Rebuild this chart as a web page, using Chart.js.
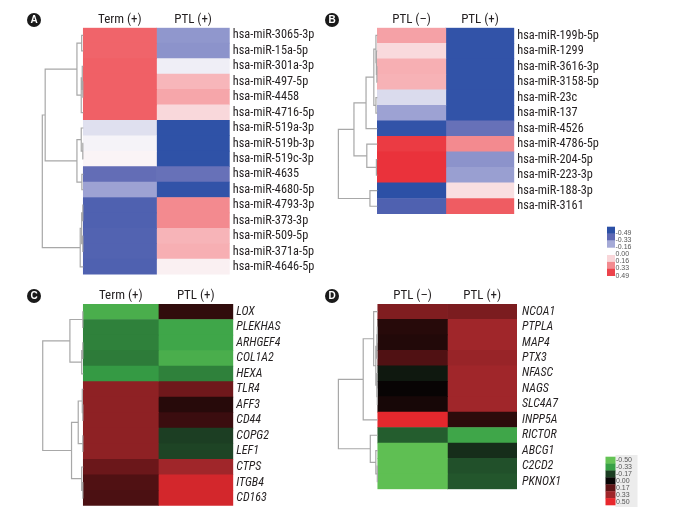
<!DOCTYPE html>
<html>
<head>
<meta charset="utf-8">
<script src="https://cdn.jsdelivr.net/npm/chart.js@4/dist/chart.umd.min.js"></script>
<style>
  html, body { margin: 0; padding: 0; background: #fff; }
  #wrap { position: relative; width: 674px; height: 516px; overflow: hidden; }
  #wrap canvas { position: absolute; }
  .tag {
    position: absolute; width: 14px; height: 14px; border-radius: 50%;
    background: #1a1a1a; color: #fff; font: bold 10px 'Liberation Sans', Arial, sans-serif;
    text-align: center; line-height: 14px;
  }
</style>
</head>
<body>
<div id="wrap">
  <canvas id="cA" width="337" height="285" style="left:0;top:0"></canvas>
  <canvas id="cB" width="337" height="285" style="left:337px;top:0"></canvas>
  <canvas id="cC" width="337" height="231" style="left:0;top:285px"></canvas>
  <canvas id="cD" width="337" height="231" style="left:337px;top:285px"></canvas>
  <div class="tag" style="left:27px;top:13px">A</div>
  <div class="tag" style="left:325px;top:13px">B</div>
  <div class="tag" style="left:27px;top:289px">C</div>
  <div class="tag" style="left:325px;top:289px">D</div>
</div>
<script>
/* ---- data: row labels, column labels, cell values, linkage [a, b, height] ---- */
const rowsA = ["hsa-miR-3065-3p", "hsa-miR-15a-5p", "hsa-miR-301a-3p", "hsa-miR-497-5p", "hsa-miR-4458",
  "hsa-miR-4716-5p", "hsa-miR-519a-3p", "hsa-miR-519b-3p", "hsa-miR-519c-3p", "hsa-miR-4635",
  "hsa-miR-4680-5p", "hsa-miR-4793-3p", "hsa-miR-373-3p", "hsa-miR-509-5p", "hsa-miR-371a-5p", "hsa-miR-4646-5p"];
const colsA = ["Term (+)", "PTL (+)"];
const termA = [0.33, 0.33, 0.34, 0.34, 0.34, 0.34, -0.05, -0.01, 0.01, -0.32, -0.18, -0.38, -0.38, -0.37, -0.37, -0.38];
const ptlA = [-0.21, -0.22, -0.02, 0.155, 0.19, 0.075, -0.48, -0.48, -0.48, -0.31, -0.47, 0.25, 0.25, 0.16, 0.17, 0.02];
const linkA = [[0, 1, 0.04], [3, 4, 0.012], [2, 17, 0.025], [18, 5, 0.05], [16, 19, 0.155],
  [7, 8, 0.012], [6, 21, 0.05], [9, 10, 0.035], [22, 23, 0.155], [20, 24, 0.93],
  [11, 12, 0.012], [13, 14, 0.012], [26, 27, 0.04], [28, 15, 0.075], [25, 29, 1.0]];

const rowsB = ["hsa-miR-199b-5p", "hsa-miR-1299", "hsa-miR-3616-3p", "hsa-miR-3158-5p", "hsa-miR-23c",
  "hsa-miR-137", "hsa-miR-4526", "hsa-miR-4786-5p", "hsa-miR-204-5p", "hsa-miR-223-3p", "hsa-miR-188-3p", "hsa-miR-3161"];
const colsB = ["PTL (\u2013)", "PTL (+)"];
const ptlNegB = [0.2, 0.07, 0.17, 0.165, -0.06, -0.18, -0.47, 0.43, 0.45, 0.45, -0.49, -0.38];
const ptlPosB = [-0.47, -0.47, -0.47, -0.47, -0.47, -0.47, -0.31, 0.25, -0.22, -0.19, 0.06, 0.35];
const linkB = [[2, 3, 0.012], [1, 12, 0.024], [0, 13, 0.036], [4, 5, 0.036], [14, 15, 0.09],
  [16, 6, 0.29], [8, 9, 0.024], [7, 18, 0.27], [17, 19, 0.6], [10, 11, 0.19], [20, 21, 1.0]];
const legendTicksB = [-0.49, -0.33, -0.16, 0.00, 0.16, 0.33, 0.49];

const rowsC = ["LOX", "PLEKHAS", "ARHGEF4", "COL1A2", "HEXA", "TLR4", "AFF3", "CD44", "COPG2", "LEF1", "CTPS", "ITGB4", "CD163"];
const colsC = ["Term (+)", "PTL (+)"];
const termC = [-0.40, -0.28, -0.28, -0.27, -0.32, 0.285, 0.285, 0.285, 0.285, 0.285, 0.2, 0.14, 0.13];
const ptlC = [0.08, -0.36, -0.36, -0.40, -0.28, 0.21, 0.06, 0.1, -0.17, -0.18, 0.33, 0.45, 0.45];
const linkC = [[0, 1, 0.012], [2, 3, 0.012], [14, 4, 0.04], [13, 15, 0.33], [6, 7, 0.012],
  [5, 17, 0.025], [8, 9, 0.012], [18, 19, 0.125], [11, 12, 0.012], [10, 21, 0.04], [20, 22, 0.29], [16, 23, 1.0]];

const rowsD = ["NCOA1", "PTPLA", "MAP4", "PTX3", "NFASC", "NAGS", "SLC4A7", "INPP5A", "RICTOR", "ABCG1", "C2CD2", "PKNOX1"];
const colsD = ["PTL (\u2013)", "PTL (+)"];
const ptlNegD = [0.25, 0.06, 0.05, 0.14, -0.06, 0.0, 0.03, 0.49, -0.22, -0.48, -0.48, -0.48];
const ptlPosD = [0.24, 0.33, 0.33, 0.31, 0.33, 0.33, 0.33, 0.07, -0.36, -0.12, -0.2, -0.21];
const linkD = [[1, 2, 0.012], [12, 3, 0.025], [5, 6, 0.012], [4, 14, 0.025], [13, 15, 0.05],
  [0, 16, 0.105], [17, 7, 0.37], [10, 11, 0.012], [9, 19, 0.05], [8, 20, 0.19], [18, 21, 1.0]];
const legendTicksD = [-0.50, -0.33, -0.17, 0.00, 0.17, 0.33, 0.50];

/* ---- colour ramps ---- */
function ramp(stops) {
  const rgb = (c) => "rgb(" + c.map((x) => Math.round(x)).join(",") + ")";
  return (v) => {
    if (v <= stops[0][0]) return rgb(stops[0][1]);
    for (let i = 1; i < stops.length; i++) {
      if (v <= stops[i][0]) {
        const [v0, c0] = stops[i - 1], [v1, c1] = stops[i];
        const t = (v - v0) / (v1 - v0);
        return rgb(c0.map((c, k) => c + (c1[k] - c) * t));
      }
    }
    return rgb(stops[stops.length - 1][1]);
  };
}
const blueRed = ramp([[-0.49, [44, 80, 166]], [-0.33, [95, 105, 180]], [-0.16, [165, 170, 215]], [0, [250, 248, 250]],
  [0.16, [247, 180, 184]], [0.33, [240, 100, 106]], [0.49, [232, 34, 43]]]);
const greenRed = ramp([[-0.5, [100, 195, 85]], [-0.33, [55, 160, 70]], [-0.17, [28, 62, 35]], [0, [8, 4, 4]],
  [0.17, [95, 20, 22]], [0.33, [160, 38, 42]], [0.5, [232, 40, 45]]]);

const FONT = "'Liberation Sans Narrow','Roboto Condensed','Arial Narrow','Liberation Sans',sans-serif";
const INK = "#231f20";

/* ---- dendrogram drawn off the chart's own scales ---- */
const dendro = {
  id: "dendro",
  afterDatasetsDraw(chart, args, opts) {
    const xs = chart.scales.x, ys = chart.scales.y, ctx = chart.ctx;
    const n = chart.data.labels.length;
    const nodes = [];
    for (let i = 0; i < n; i++) nodes.push({ x: xs.getPixelForValue(0), y: ys.getPixelForValue(i) });
    ctx.save();
    ctx.strokeStyle = "#a8a8a8";
    ctx.lineWidth = 1.2;
    ctx.beginPath();
    opts.link.forEach(([a, b, h]) => {
      const A = nodes[a], B = nodes[b];
      const x = xs.getPixelForValue(-h * opts.width);
      ctx.moveTo(A.x, A.y); ctx.lineTo(x, A.y);
      ctx.lineTo(x, B.y); ctx.lineTo(B.x, B.y);
      nodes.push({ x, y: (A.y + B.y) / 2 });
    });
    ctx.stroke();
    ctx.restore();
  },
};

/* ---- colour key ---- */
const colorKey = {
  id: "colorKey",
  afterDraw(chart, args, o) {
    if (!o.groups) return;
    const ctx = chart.ctx;
    ctx.save();
    ctx.translate(-o.origin[0], -o.origin[1]);
    if (o.bg) { ctx.fillStyle = o.bg; ctx.fillRect(o.bgBox[0], o.bgBox[1], o.bgBox[2], o.bgBox[3]); }
    o.groups.forEach((g) => {
      g.vals.forEach((v, i) => {
        ctx.fillStyle = o.scale(v);
        ctx.fillRect(o.x, g.top + i * o.bandH, o.w, o.bandH + 0.3);
      });
    });
    ctx.fillStyle = "#555";
    ctx.font = "7px 'Liberation Sans', Arial, sans-serif";
    ctx.textBaseline = "middle";
    o.ticks.forEach((t, i) => ctx.fillText(t.toFixed(2), o.x + o.w + 0.5, o.labelY + i * o.labelStep));
    ctx.restore();
  },
};

function heatmap(id, rows, cols, values, scale, link, L, key) {
  const colW = (L.heatR - L.heatL) / 2;
  const xmin = -(L.dendroW + 0.02);
  return new Chart(document.getElementById(id), {
    type: "bar",
    data: {
      labels: rows,
      datasets: cols.map((c, j) => ({
        label: c,
        data: rows.map(() => [j, j + 1]),
        backgroundColor: values[j].map(scale),
        borderWidth: 0, grouped: false, barPercentage: 1, categoryPercentage: 1,
      })),
    },
    options: {
      indexAxis: "y", responsive: false, animation: false, events: [],
      layout: { padding: { left: L.heatL + xmin * colW - L.left, right: 0, top: 0, bottom: L.top + L.h - L.heatB } },
      scales: {
        x: {
          type: "linear", position: "top", min: xmin, max: 2,
          grid: { display: false, drawTicks: false }, border: { display: false },
          afterBuildTicks: (a) => { a.ticks = cols.map((_, j) => ({ value: j + 0.5 })); },
          afterFit: (a) => { a.height = L.heatT - L.top; },
          ticks: { callback: (v) => cols[Math.floor(v)], color: INK, padding: L.headPad, maxRotation: 0, autoSkip: false,
            font: { family: FONT, size: 13 } },
        },
        y: {
          type: "category", position: "right",
          grid: { display: false, drawTicks: false }, border: { display: false },
          afterFit: (a) => { a.width = L.left + L.w - L.heatR; },
          ticks: { color: INK, padding: L.labelPad, autoSkip: false,
            font: { family: FONT, size: L.italic ? 12 : 12.3, style: L.italic ? "italic" : "normal" } },
        },
      },
      plugins: {
        legend: { display: false }, tooltip: { enabled: false },
        dendro: { link, width: L.dendroW },
        colorKey: key ? Object.assign({ origin: [L.left, L.top], scale }, key) : {},
      },
    },
    plugins: [dendro, colorKey],
  });
}

heatmap("cA", rowsA, colsA, [termA, ptlA], blueRed, linkA,
  { left: 0, top: 0, w: 337, h: 285, heatL: 83.3, heatR: 229.7, heatT: 27.7, heatB: 275.7, dendroW: 0.56, labelPad: 3, headPad: 0 });
heatmap("cB", rowsB, colsB, [ptlNegB, ptlPosB], blueRed, linkB,
  { left: 337, top: 0, w: 337, h: 285, heatL: 368.7, heatR: 514.3, heatT: 27.7, heatB: 214, dendroW: 0.569, labelPad: 3, headPad: 0 },
  { x: 607, w: 8, bandH: 6.9, groups: [{ top: 226.7, vals: [-0.49, -0.33, -0.16] }, { top: 255, vals: [0.08, 0.25, 0.41] }],
    ticks: legendTicksB, labelY: 233.3, labelStep: 7.05 });
heatmap("cC", rowsC, colsC, [termC, ptlC], greenRed, linkC,
  { left: 0, top: 285, w: 337, h: 231, heatL: 83.3, heatR: 233.3, heatT: 304, heatB: 506.7, dendroW: 0.541, labelPad: 3, headPad: 0, italic: true });
heatmap("cD", rowsD, colsD, [ptlNegD, ptlPosD], greenRed, linkD,
  { left: 337, top: 285, w: 337, h: 231, heatL: 368.7, heatR: 517, heatT: 304, heatB: 489.3, dendroW: 0.566, labelPad: 5, headPad: 0, italic: true },
  { x: 605.5, w: 10, bandH: 6.9, groups: [{ top: 456.7, vals: [-0.5, -0.33, -0.17, 0, 0.17, 0.33, 0.5] }],
    ticks: legendTicksD, labelY: 460.2, labelStep: 6.9, bg: "#ececec", bgBox: [615.5, 455, 22, 52] });
</script>
</body>
</html>
